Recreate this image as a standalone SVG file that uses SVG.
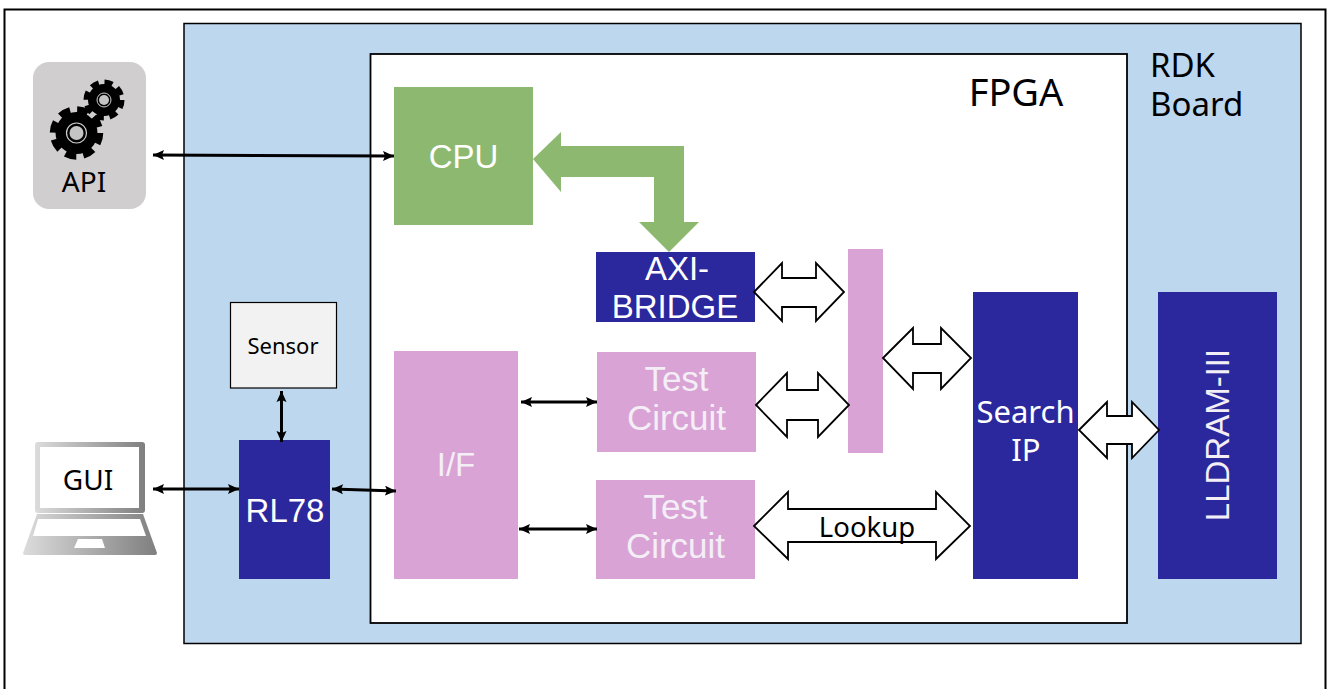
<svg xmlns="http://www.w3.org/2000/svg" width="1327" height="689" viewBox="0 0 1327 689">
<style>
.ar{font-family:"Liberation Sans",Arial,sans-serif}
.no{font-family:"Noto Sans","Open Sans",sans-serif}
text{text-anchor:middle}
.w{fill:#fff}.wl{fill:#f4eef6}.k{fill:#000}
.navy{fill:#2b289e}.pink{fill:#d9a3d5}
.block{fill:#fff;stroke:#000;stroke-width:1.800;stroke-linejoin:miter}
.thin{stroke:#000;stroke-width:3;fill:none;marker-start:url(#hs);marker-end:url(#he)}
</style>
<defs>
<marker id="he" markerUnits="userSpaceOnUse" markerWidth="12" markerHeight="12" refX="11" refY="5" orient="auto"><path d="M0 0L11 5L0 10L2 5Z" fill="#000"/></marker>
<marker id="hs" markerUnits="userSpaceOnUse" markerWidth="12" markerHeight="12" refX="0" refY="5" orient="auto"><path d="M11 0L0 5L11 10L9 5Z" fill="#000"/></marker>
<linearGradient id="lap" x1="0" x2="1" y1="0" y2="0"><stop offset="0" stop-color="#dcdcdc"/><stop offset="1" stop-color="#7f7f7f"/></linearGradient>
</defs>
<rect width="1327" height="689" fill="#fff"/>
<path id="frame" d="M4.500 689V9.500H1325.500V689" fill="none" stroke="#000" stroke-width="2"/>
<g id="board"><rect x="184" y="23.500" width="1117" height="620" fill="#bdd7ee" stroke="#000" stroke-width="1.500"/>
<text class="no k" x="1150" y="77" font-size="33" style="text-anchor:start">RDK</text>
<text class="no k" x="1150" y="116" font-size="33" style="text-anchor:start">Board</text></g>
<g id="fpga"><rect x="370.500" y="54" width="756.500" height="569" fill="#fff" stroke="#000" stroke-width="1.800"/>
<text class="no k" x="1016" y="106" font-size="38">FPGA</text></g>
<g id="api"><rect x="33" y="62" width="113" height="147" rx="16" fill="#d0cece"/>
<g fill="#000" stroke="#000">
<circle cx="104" cy="100" r="16" stroke="none"/>
<circle cx="104" cy="100" r="17.500" fill="none" stroke-width="6" stroke-dasharray="8 5.740"/>
<circle cx="76.500" cy="133" r="21" stroke="none"/>
<circle cx="76.500" cy="133" r="23" fill="none" stroke-width="7.500" stroke-dasharray="11 7.060"/></g>
<circle cx="104" cy="100" r="7" fill="#000" stroke="#d0cece" stroke-width="1"/><circle cx="104" cy="100" r="5" fill="#c4c4c4"/>
<circle cx="76.500" cy="133" r="10" fill="#000" stroke="#d0cece" stroke-width="1.200"/><circle cx="76.500" cy="133" r="7" fill="#c4c4c4"/>
<text class="no k" x="84" y="192" font-size="28">API</text></g>
<g id="gui"><rect x="35" y="442" width="110" height="71" rx="3" fill="url(#lap)"/><rect x="40" y="447" width="99" height="61" fill="#fff"/>
<path d="M37 514H143L157 553Q157 555 155 555H25Q23 555 23 553Z" fill="url(#lap)"/>
<path d="M38 519H140L146 536H33Z" fill="#fff"/><path d="M78 539H102L105 548H74Z" fill="#fff"/>
<text class="no k" x="88" y="490" font-size="28">GUI</text></g>
<g id="sensor"><rect x="230.500" y="302.500" width="106" height="85.500" fill="#f2f2f2" stroke="#000" stroke-width="1.200"/><text class="no k" x="283" y="354" font-size="22">Sensor</text></g>
<g id="rl78"><rect class="navy" x="239" y="440" width="91" height="139"/><text class="ar w" x="285" y="522" font-size="33">RL78</text></g>
<g id="cpu"><rect x="394" y="87" width="139" height="138" fill="#8cb96f"/><text class="ar w" x="463.500" y="168" font-size="33">CPU</text></g>
<g id="axi"><rect class="navy" x="596" y="252" width="159" height="70"/><text class="ar w" x="677" y="280" font-size="33">AXI-</text><text class="ar w" x="675" y="318" font-size="33">BRIDGE</text></g>
<g id="if"><rect class="pink" x="394" y="351" width="124" height="228"/><text class="ar wl" x="456" y="476" font-size="33">I/F</text></g>
<g id="test1"><rect class="pink" x="597" y="352" width="159" height="100"/><text class="ar wl" x="676.500" y="391" font-size="35">Test</text><text class="ar wl" x="676.500" y="430" font-size="35">Circuit</text></g>
<g id="test2"><rect class="pink" x="596" y="480" width="159" height="99"/><text class="ar wl" x="675.500" y="519" font-size="35">Test</text><text class="ar wl" x="675.500" y="558" font-size="35">Circuit</text></g>
<g id="bar"><rect class="pink" x="848" y="249" width="35" height="204"/></g>
<g id="search"><rect class="navy" x="973" y="292" width="105" height="287"/><text class="no w" x="1025.500" y="423" font-size="31">Search</text><text class="no w" x="1026" y="461" font-size="31">IP</text></g>
<g id="lldram"><rect class="navy" x="1158" y="292" width="119" height="287"/><text class="ar wl" font-size="33" transform="translate(1229 435) rotate(-90)">LLDRAM-III</text></g>
<g id="connectors">
<path d="M533 159L561 132V146H684V222H699L669 252L639 222H654V177H561V192Z" fill="#8cb96f"/>
<path class="block" d="M754 292L782 263V278H816V263L844 292L816 321V307H782V321Z"/>
<path class="block" d="M756 405L787 373V390H818V373L849 405L818 437V420H787V437Z"/>
<path class="block" d="M883 358L913 328V344H941V328L971 358L941 389V373H913V389Z"/>
<path class="block" d="M1079 430L1107 402V416H1132V402L1159 430L1132 458V444H1107V458Z"/>
<path class="block" d="M754 526L788 492V509H936V492L970 526L936 559V542H788V559Z"/>
<text class="no k" x="867" y="537" font-size="27.500">Lookup</text>
<line class="thin" x1="153" y1="155" x2="394" y2="156"/>
<line class="thin" x1="153" y1="489" x2="239" y2="489"/>
<line class="thin" x1="281.500" y1="391" x2="281.500" y2="442"/>
<line class="thin" x1="332" y1="489" x2="396" y2="491"/>
<line class="thin" x1="521" y1="402" x2="597" y2="402"/>
<line class="thin" x1="519" y1="529" x2="597" y2="529"/>
</g>
</svg>
